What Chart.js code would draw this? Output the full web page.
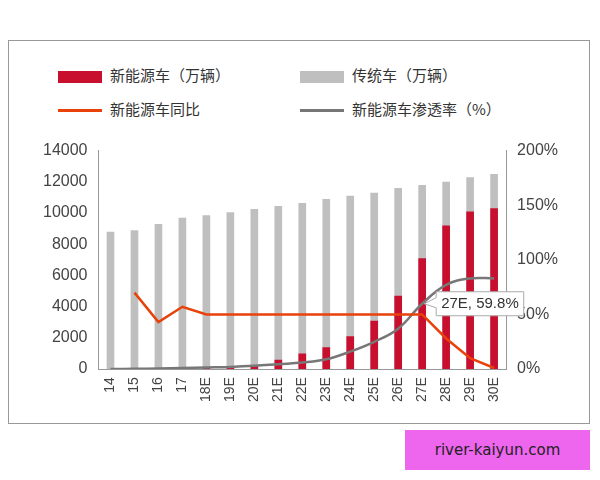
<!DOCTYPE html>
<html><head><meta charset="utf-8">
<script src="https://cdn.jsdelivr.net/npm/chart.js"></script>
<style>
body{margin:0;background:#fff;font-family:"Noto Sans CJK SC",sans-serif}
#frame{position:absolute;left:8px;top:40px;width:580px;height:382px;border:1px solid #999}
#box{position:absolute;left:40px;top:138px;width:525px;height:267px}
.lg{position:absolute;font-size:15px;color:#333}
.sw{display:inline-block;vertical-align:middle;margin-right:8px}
#wm{position:absolute;left:405px;top:430px;width:185px;height:40px;background:#ee66ee;color:#222;font:15px "DejaVu Sans";line-height:40px;text-align:center}
</style></head><body>
<div id="frame"></div>
<div class="lg" style="left:58px;top:64px"><span class="sw" style="width:44px;height:12px;background:#c8102e"></span>新能源车（万辆）</div>
<div class="lg" style="left:300px;top:64px"><span class="sw" style="width:44px;height:12px;background:#bfbfbf"></span>传统车（万辆）</div>
<div class="lg" style="left:58px;top:98px"><span class="sw" style="width:44px;height:3px;background:#e8410a"></span>新能源车同比</div>
<div class="lg" style="left:300px;top:98px"><span class="sw" style="width:44px;height:3px;background:#777"></span>新能源车渗透率（%）</div>
<div id="box"><canvas id="c"></canvas></div>
<div id="wm">river-kaiyun.com</div>
<script>
// 年份
var labels = ["14","15","16","17","18E","19E","20E","21E","22E","23E","24E","25E","26E","27E","28E","29E","30E"];
// 新能源车 / 传统车 (总量)
var nev = [0,20,50,80,120,150,250,600,1000,1400,2100,3100,4700,7100,9200,10100,10300];
var total = [8800,8900,9300,9700,9850,10050,10250,10450,10650,10900,11100,11300,11600,11800,12000,12300,12500];
// 同比, 渗透率 (%)
var yoy = [null,70,43,57,50,50,50,50,50,50,50,50,50,50,28,10,1];
var pen = [0,0.2,0.6,1,1.5,2,3,4.5,6,9,16,25,37,59.8,77,83,83];

var calloutPlugin = {
  id: 'callout',
  afterDatasetsDraw: function(chart) {
    var ctx = chart.ctx;
    var x = chart.scales.x.getPixelForValue(13);
    var y = chart.scales.y1.getPixelForValue(pen[13]);
    ctx.save();
    ctx.font = '15px "Liberation Sans"';
    var t = '27E, 59.8%';
    var w = ctx.measureText(t).width + 10;
    var bx = x + 14, by = y - 12;
    ctx.fillStyle = '#fff';
    ctx.strokeStyle = '#aaa';
    ctx.beginPath();
    ctx.moveTo(x + 2, y);
    ctx.lineTo(bx, by + 6);
    ctx.lineTo(bx, by);
    ctx.lineTo(bx + w, by);
    ctx.lineTo(bx + w, by + 24);
    ctx.lineTo(bx, by + 24);
    ctx.lineTo(bx, by + 16);
    ctx.closePath();
    ctx.fill(); ctx.stroke();
    ctx.fillStyle = '#333';
    ctx.textBaseline = 'middle';
    ctx.fillText(t, bx + 5, by + 12);
    ctx.restore();
  }
};

new Chart(document.getElementById('c'), {
  type: 'bar',
  data: {
    labels: labels,
    datasets: [
      {type:'line', data: yoy, yAxisID:'y1', borderColor:'#e8410a', borderWidth:2.5, pointRadius:0, tension:0, order:0},
      {type:'line', data: pen, yAxisID:'y1', borderColor:'#777', borderWidth:2.5, pointRadius:0, tension:0.4, order:0},
      {data: nev, backgroundColor:'#c8102e', barPercentage:0.4, order:1},
      {data: total, backgroundColor:'#bfbfbf', barPercentage:0.4, order:2}
    ]
  },
  options: {
    responsive:true, maintainAspectRatio:false, animation:false,
    layout:{padding:{right:4}},
    datasets:{bar:{grouped:false}},
    plugins:{legend:{display:false}, tooltip:{enabled:false}},
    scales:{
      x:{grid:{display:false, drawTicks:true, tickLength:5}, border:{color:'#999'},
         ticks:{minRotation:90, maxRotation:90, color:'#444', font:{size:14, family:'Liberation Sans'}}},
      y:{min:0, max:14000, grid:{display:false}, border:{color:'#999'},
         ticks:{stepSize:2000, color:'#444', font:{size:16, family:'Liberation Sans'}, callback:function(v){return String(v);}}},
      y1:{position:'right', min:0, max:200, grid:{display:false}, border:{color:'#999'},
         ticks:{stepSize:50, color:'#444', font:{size:16, family:'Liberation Sans'}, callback:function(v){return v+'%';}}}
    }
  },
  plugins:[calloutPlugin]
});
</script>
</body></html>
